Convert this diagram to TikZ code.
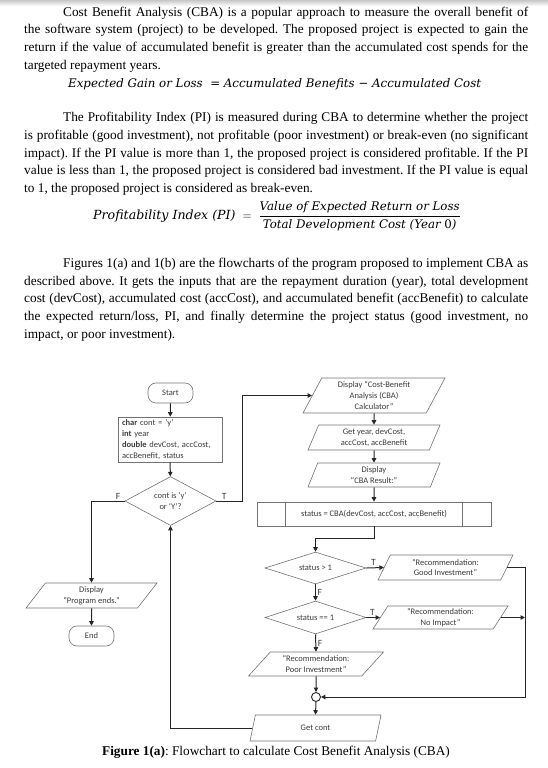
\documentclass[tikz,border=0pt]{standalone}
\usepackage{amsmath}
\usepackage{fontspec}
\setmainfont{Liberation Serif}
\newfontfamily\chartfont{Carlito}
\newfontfamily\eqfont{DejaVu Serif}
\usetikzlibrary{shapes.geometric,arrows.meta,calc}

\definecolor{edgegray}{RGB}{115,115,115}
\definecolor{inkgray}{RGB}{60,60,60}
\frenchspacing

\begin{document}
\begin{tikzpicture}[x=1pt,y=-1pt,
  para/.style={anchor=north west,inner sep=0pt,text width=504pt,align=justify,
    font=\fontsize{13.3}{17.7}\selectfont},
  eqn/.style={inner sep=0pt,font=\eqfont\itshape\fontsize{11.8}{14}\selectfont},
  chartbox/.style={draw=edgegray,line width=0.6pt,fill=white,text=inkgray,inner sep=0pt,
    align=center,font=\chartfont\fontsize{8.5}{10.8}\selectfont},
  termbox/.style={chartbox,rectangle,rounded corners=8pt,minimum width=45pt,minimum height=20pt},
  procbox/.style={chartbox,rectangle},
  iobox/.style 2 args={chartbox,trapezium,trapezium left angle=#1,trapezium right angle=#2,
    trapezium stretches body},
  decbox/.style={chartbox,diamond,aspect=2},
  flow/.style={draw=black!85,line width=1pt,-{Triangle[length=4.5pt,width=4.5pt]}},
  lbl/.style={font=\chartfont\fontsize{9.5}{11}\selectfont,text=inkgray,inner sep=1.5pt}]
\useasboundingbox (0,0) rectangle (548,768);
\shade[top color=black!22,bottom color=white] (0,0) rectangle (548,6);

%text above the chart
\node[para] (introCBA) at (24,3.6) {\noindent\hspace*{39pt}\strut Cost Benefit Analysis (CBA) is a popular approach to measure the overall benefit of\linebreak
the software system (project) to be developed. The proposed project is expected to gain the\linebreak
return if the value of accumulated benefit is greater than the accumulated cost spends for the\linebreak
targeted repayment years.};
\node[eqn,anchor=base west] (gainEq) at (68,87) {Expected Gain or Loss\ \ {\upshape =} Accumulated Benefits {\upshape −} Accumulated Cost};

\node[para] (introPI) at (24,109.1) {\noindent\hspace*{39pt}\strut The Profitability Index (PI) is measured during CBA to determine whether the project\linebreak
is profitable (good investment), not profitable (poor investment) or break-even (no significant\linebreak
impact). If the PI value is more than 1, the proposed project is considered profitable. If the PI\linebreak
value is less than 1, the proposed project is considered bad investment. If the PI value is equal\linebreak
to 1, the proposed project is considered as break-even.};
\node[eqn,anchor=west] (piEq) at (93,216) {{\fontsize{12.6}{14}\selectfont Profitability Index (PI)}
  $\;=\;\genfrac{}{}{1pt}{0}{\text{Value of Expected Return or Loss}}{\text{Total Development Cost (Year {\upshape 0})}}$};

\node[para] (introFig) at (24,255) {\noindent\hspace*{39pt}\strut Figures 1(a) and 1(b) are the flowcharts of the program proposed to implement CBA as\linebreak
described above. It gets the inputs that are the repayment duration (year), total development\linebreak
cost (devCost), accumulated cost (accCost), and accumulated benefit (accBenefit) to calculate\linebreak
the expected return/loss, PI, and finally determine the project status (good investment, no\linebreak
impact, or poor investment).};

%left column
\node[termbox] (start) at (170.5,393) {Start};
\node[procbox,minimum width=104pt,minimum height=45pt,text width=96pt,align=left] (decl) at (170,439.5)
  {\textbf{char} cont = ‘y’\\\textbf{int} year\\\textbf{double} devCost, accCost,\\accBenefit, status};
\node[decbox,minimum width=91pt,minimum height=49pt] (cont) at (170.5,501) {cont is ‘y’\\or ‘Y’?};
\node[iobox={43}{137},minimum width=131pt,minimum height=25pt] (bye) at (91.5,595.5) {Display\\“Program ends.”};
\node[termbox] (stop) at (91.5,636) {End};

%right column
\node[iobox={56}{124},minimum width=142pt,minimum height=35pt] (title) at (374,395.5)
  {Display “Cost-Benefit\\Analysis (CBA)\\Calculator”};
\node[iobox={59}{121},minimum width=132pt,minimum height=25pt] (input) at (374,437.5) {Get year, devCost,\\accCost, accBenefit};
\node[iobox={60}{120},minimum width=132pt,minimum height=24pt] (result) at (374,475) {Display\\“CBA Result:”};
\node[procbox,minimum width=234pt,minimum height=24pt] (calc) at (374,514) {status = CBA(devCost, accCost, accBenefit)};
\draw[edgegray,line width=0.6pt] ([xshift=29pt]calc.north west) -- ([xshift=29pt]calc.south west)
  ([xshift=-29pt]calc.north east) -- ([xshift=-29pt]calc.south east);

\node[decbox,minimum width=101pt,minimum height=32pt] (gt) at (315.5,568) {status > 1};
\node[decbox,minimum width=101pt,minimum height=33pt] (eq) at (315.5,617.5) {status == 1};
\node[iobox={54}{126},minimum width=135pt,minimum height=25pt] (good) at (445.5,567.5) {“Recommendation:\\Good Investment”};
\node[iobox={51}{129},minimum width=135pt,minimum height=23pt] (noimp) at (440.5,617.5) {“Recommendation:\\No Impact”};
\node[iobox={38}{142},minimum width=135pt,minimum height=24pt] (poor) at (316,664) {“Recommendation:\\Poor Investment”};
\node[circle,draw=black!85,line width=0.9pt,fill=white,minimum size=9pt,inner sep=0pt] (join) at (316,697) {};
\node[iobox={46}{134},minimum width=131pt,minimum height=26pt] (again) at (315.5,728) {Get cont};
\coordinate (rbus) at (525,567.5);

%connectors
\draw[flow] (start) -- (decl);
\draw[flow] (decl) -- (cont);
\draw[flow] (cont.east) -- node[lbl,above,pos=0.3]{T} ++(26,0) |- (title.left side);
\draw[flow] (cont.west) -| node[lbl,above,pos=0.1]{F} (bye.north);
\draw[flow] (bye) -- (stop);
\draw[flow] (title) -- (input);
\draw[flow] (input) -- (result);
\draw[flow] (result) -- (calc);
\draw[flow] (calc.south) -- ++(0,12) -| (gt.north);
\draw[flow] (gt.east) -- node[lbl,above,pos=0.4]{T} (good.left side);
\draw[flow] (gt.south) -- node[lbl,right]{F} (eq.north);
\draw[flow] (eq.east) -- node[lbl,above,pos=0.45]{T} (noimp.left side);
\draw[flow] (eq.south) -- node[lbl,right]{F} (poor.north);
\draw[flow] (poor.south) -- (join.north);
\draw[flow] (good.right side) -| (rbus |- join) -- (join.east);
\draw[flow] (noimp.right side) -- (noimp.right side -| rbus);
\draw[flow] (join.south) -- (again.north);
\draw[flow] (again.left side) -| (cont.south);

\node[anchor=base,font=\fontsize{13.3}{16}\selectfont] (figCap) at (276,755)
  {\textbf{Figure 1(a)}: Flowchart to calculate Cost Benefit Analysis (CBA)};
\end{tikzpicture}
\end{document}
